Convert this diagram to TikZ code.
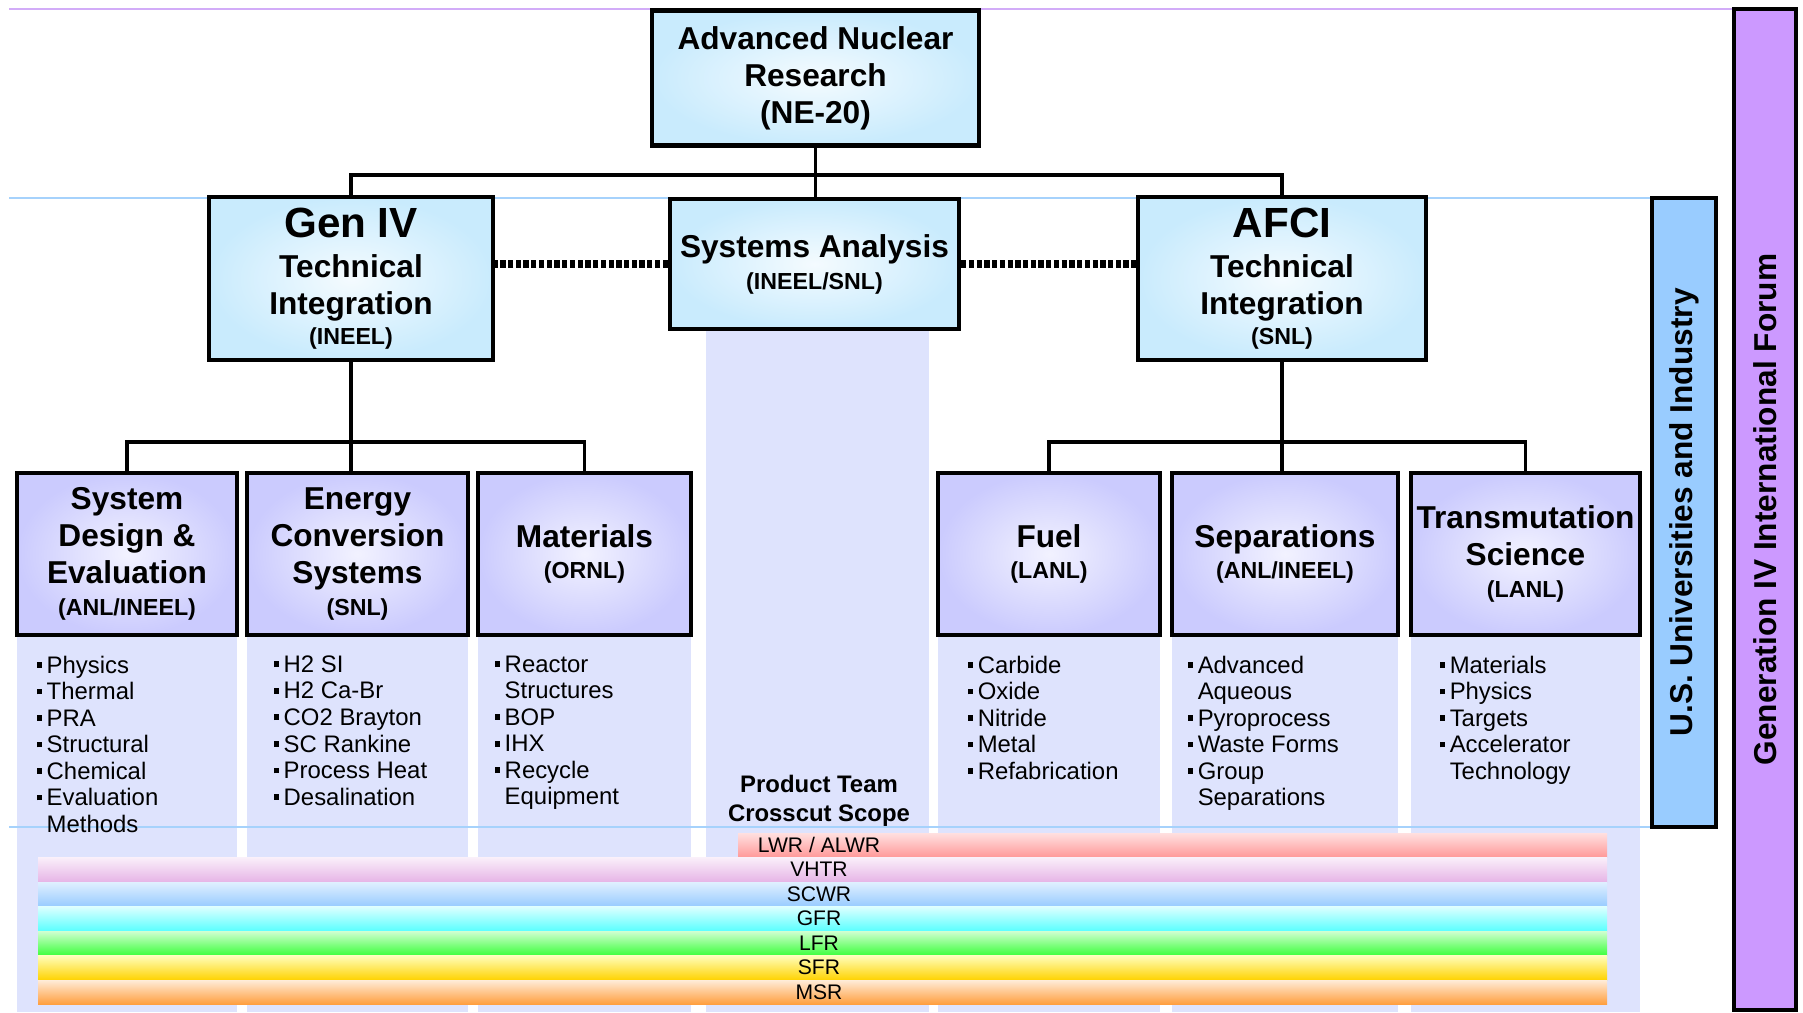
\documentclass[tikz,border=0pt]{standalone}
\usepackage{fontspec}
\setmainfont{Liberation Sans}
\usetikzlibrary{calc}

\definecolor{boxblue}{HTML}{C9EBFD}
\definecolor{boxlav}{HTML}{CBCBFE}
\definecolor{collav}{HTML}{DEE3FD}
\definecolor{barblue}{HTML}{99CCFF}
\definecolor{barpurple}{HTML}{CC99FF}
\definecolor{linepurple}{HTML}{D2ACF8}
\definecolor{lineblue}{HTML}{A6D2FC}
\definecolor{vhtrpink}{HTML}{E6B4E6}

\newcommand\hdfont{\bfseries\fontsize{9}{10.5}\selectfont}
\newcommand\bigfont{\bfseries\fontsize{12}{13}\selectfont}
\newcommand\subfont{\bfseries\fontsize{6.6}{8}\selectfont}
\newcommand\lstfont{\fontsize{6.8}{7.55}\selectfont}
\newcommand\barfont{\fontsize{6}{7}\selectfont}
\newcommand\lsq{\makebox[0.42em][l]{\rule[0.22em]{0.24em}{0.24em}}}
\newcommand\lgap{\hspace*{0.42em}}

\tikzset{
	topbox/.style={draw=black, line width=1.2pt, inner color=white!80!boxblue, outer color=boxblue, align=center, font=\hdfont, inner sep=0pt},
	subbox/.style={draw=black, line width=1.2pt, inner color=white!75!boxlav, outer color=boxlav, align=center, font=\hdfont, inner sep=0pt, minimum height=16.2mm},
	sidebar/.style={draw=black, line width=1.2pt, rotate=90, font=\hdfont, inner sep=0pt},
	link/.style={line width=0.9pt},
	dotlink/.style={line width=2pt, dash pattern=on 1.5pt off 0.7pt},
	lst/.style={anchor=north west, align=left, font=\lstfont, inner sep=0pt},
	barlab/.style={font=\barfont, inner sep=0pt},
}

\begin{document}
\begin{tikzpicture}[x=0.1mm, y=-0.1mm]
			%%%%% START %%%%%
			\useasboundingbox (0,0) rectangle (1803,1012);
			
			\fill[collav] (17,600) rectangle (237,1012);
			\fill[collav] (247,600) rectangle (468,1012);
			\fill[collav] (478,600) rectangle (691,1012);
			\fill[collav] (706,329) rectangle (929,1012);
			\fill[collav] (938,600) rectangle (1160,1012);
			\fill[collav] (1172,600) rectangle (1398,1012);
			\fill[collav] (1411,600) rectangle (1640,1012);
			
			\shade[top color=red!12!white, bottom color=red!40!white] (738,833) rectangle (1607,857);
			\shade[top color=vhtrpink!20!white, bottom color=vhtrpink] (38,857) rectangle (1607,882);
			\shade[top color=barblue!30!white, bottom color=barblue] (38,882) rectangle (1607,906);
			\shade[top color=cyan!12!white, bottom color=cyan!65!white] (38,906) rectangle (1607,931);
			\shade[top color=green!18!white, bottom color=green!75!white] (38,931) rectangle (1607,955);
			\shade[top color=yellow!25!white, bottom color=orange!35!yellow] (38,955) rectangle (1607,980);
			\shade[top color=orange!15!white, bottom color=orange!75!white] (38,980) rectangle (1607,1004);
			
			\draw[linepurple, line width=0.8pt] (9,9) -- (1734,9);
			\draw[lineblue, line width=0.8pt] (9,198) -- (1652,198);
			\draw[lineblue, line width=0.8pt] (9,827) -- (1652,827);
			
			\node[topbox, minimum width=32.7mm, minimum height=13.5mm] (ne20) at (815.5,78) {Advanced Nuclear\\ Research\\ (NE-20)};
			\node[topbox, minimum width=28.4mm, minimum height=16.3mm] (gen4) at (351,278.5) {{\bigfont Gen IV}\\[1pt] Technical\\ Integration\\[-2pt] {\subfont (INEEL)}};
			\node[topbox, minimum width=28.9mm, minimum height=13mm] (sysan) at (814.5,264) {Systems Analysis\\[-1.4pt] {\subfont (INEEL/SNL)}};
			\node[topbox, minimum width=28.8mm, minimum height=16.3mm] (afci) at (1282,278.5) {{\bigfont AFCI}\\[1pt] Technical\\ Integration\\[-2pt] {\subfont (SNL)}};
			
			\node[subbox, minimum width=22mm] (sde) at (127,554) {System\\ Design \&\\ Evaluation\\[-1.5pt] {\subfont (ANL/INEEL)}};
			\node[subbox, minimum width=22.1mm] (ecs) at (357.5,554) {Energy\\ Conversion\\ Systems\\[-1.5pt] {\subfont (SNL)}};
			\node[subbox, minimum width=21.3mm] (mat) at (584.5,554) {Materials\\[-1.5pt] {\subfont (ORNL)}};
			\node[subbox, minimum width=22.2mm] (fuel) at (1049,554) {Fuel\\[-1.5pt] {\subfont (LANL)}};
			\node[subbox, minimum width=22.6mm] (sep) at (1285,554) {Separations\\[-1.5pt] {\subfont (ANL/INEEL)}};
			\node[subbox, minimum width=22.9mm] (trans) at (1525.5,554) {Transmutation\\ Science\\[-1.5pt] {\subfont (LANL)}};
			
			\node[sidebar, fill=barblue, minimum width=62.9mm, minimum height=6.4mm] (usui) at (1684,512.5) {U.S. Universities and Industry};
			\node[sidebar, fill=barpurple, minimum width=100.1mm, minimum height=6.2mm] (gif) at (1765,509.5) {Generation IV International Forum};
			
			\coordinate (topbus) at (815,175);
			\coordinate (gbus) at (351,442);
			\coordinate (abus) at (1282,442);
			\draw[link] (ne20.south) -- (ne20.south |- sysan.north);
			\draw[link] (gen4.north) |- (topbus) -| (afci.north);
			\draw[link] (gen4.south) -- (gen4.south |- ecs.north);
			\draw[link] (sde.north) |- (gbus) -| (mat.north);
			\draw[link] (afci.south) -- (afci.south |- sep.north);
			\draw[link] (fuel.north) |- (abus) -| (trans.north);
			\draw[dotlink] (sysan.west) -- (sysan.west -| gen4.east);
			\draw[dotlink] (sysan.east) -- (sysan.east -| afci.west);
			
			\node[lst] (sdelist) at (36,655) {\lsq Physics\\ \lsq Thermal\\ \lsq PRA\\ \lsq Structural\\ \lsq Chemical\\ \lsq Evaluation\\ \lgap Methods};
			\node[lst] (ecslist) at (273,655) {\lsq H2 SI\\ \lsq H2 Ca-Br\\ \lsq CO2 Brayton\\ \lsq SC Rankine\\ \lsq Process Heat\\ \lsq Desalination};
			\node[lst] (matlist) at (494,655) {\lsq Reactor\\ \lgap Structures\\ \lsq BOP\\ \lsq IHX\\ \lsq Recycle\\ \lgap Equipment};
			\node[lst] (fuellist) at (967,655) {\lsq Carbide\\ \lsq Oxide\\ \lsq Nitride\\ \lsq Metal\\ \lsq Refabrication};
			\node[lst] (seplist) at (1187,655) {\lsq Advanced\\ \lgap Aqueous\\ \lsq Pyroprocess\\ \lsq Waste Forms\\ \lsq Group\\ \lgap Separations};
			\node[lst] (translist) at (1439,655) {\lsq Materials\\ \lsq Physics\\ \lsq Targets\\ \lsq Accelerator\\ \lgap Technology};
			
			\node[font=\bfseries\fontsize{6.8}{8.2}\selectfont, align=center, inner sep=0pt] (ptscope) at (819,801) {Product Team\\ Crosscut Scope};
			
			\node[barlab] (lwr) at (819,845) {LWR / ALWR};
			\node[barlab] (vhtr) at (819,869.5) {VHTR};
			\node[barlab] (scwr) at (819,894) {SCWR};
			\node[barlab] (gfr) at (819,918.5) {GFR};
			\node[barlab] (lfr) at (819,943) {LFR};
			\node[barlab] (sfr) at (819,967.5) {SFR};
			\node[barlab] (msr) at (819,992) {MSR};
			
			%%%%% END %%%%%
\end{tikzpicture}
\end{document}
